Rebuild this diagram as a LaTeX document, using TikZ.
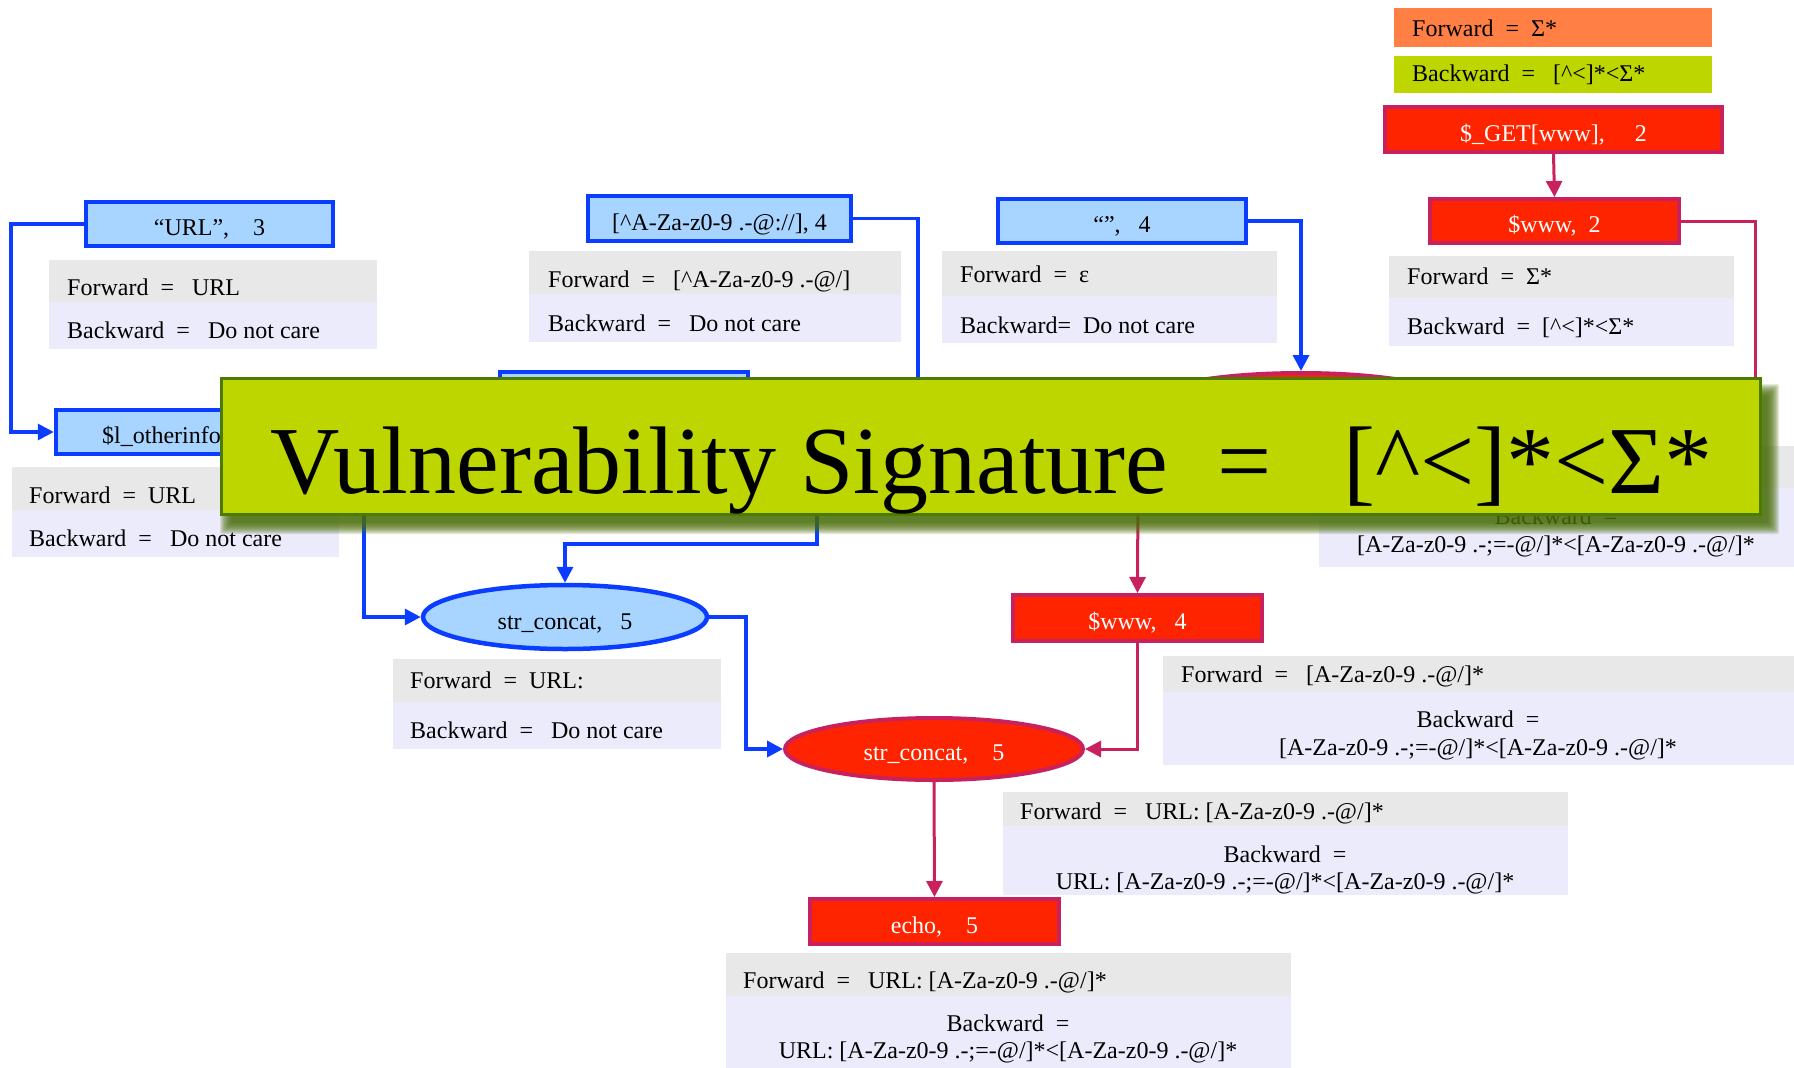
\documentclass[tikz,border=0pt]{standalone}
\usepackage{fontspec}
\setmainfont{Liberation Serif}
\usetikzlibrary{arrows.meta,shapes.geometric}
\definecolor{lblue}{HTML}{A8D5FF}
\definecolor{bblue}{HTML}{0A3DFF}
\definecolor{redf}{HTML}{FF2400}
\definecolor{crim}{HTML}{C9215D}
\definecolor{grayc}{HTML}{E8E8E8}
\definecolor{lav}{HTML}{EBEBFC}
\definecolor{orangec}{HTML}{FF7F44}
\definecolor{limec}{HTML}{BDD600}
\definecolor{bandark}{HTML}{4B7A00}
\definecolor{shadc}{HTML}{4A6E08}
\tikzset{
  tfont/.style={font=\fontsize{24}{28}\selectfont},
  bluebox/.style={rectangle, draw=bblue, fill=lblue, line width=4.5pt, inner sep=0pt, text height=23pt, text depth=0pt, tfont},
  redbox/.style={rectangle, draw=crim, fill=redf, line width=4pt, inner sep=0pt, text=white, text height=23pt, text depth=0pt, tfont},
  blueell/.style={ellipse, draw=bblue, fill=lblue, line width=4.5pt, inner sep=0pt, text height=24pt, text depth=0pt, tfont},
  redell/.style={ellipse, draw=crim, fill=redf, line width=4pt, inner sep=0pt, text=white, text height=22pt, text depth=0pt, tfont},
  itxt/.style={inner sep=0pt, anchor=base west, tfont},
  ctxt/.style={inner sep=0pt, anchor=base, tfont},
  bconn/.style={draw=bblue, line width=3.5pt},
  rconn/.style={draw=crim, line width=3pt},
  tipa/.style={-{Triangle[length=16pt,width=16pt]}},
  bigtxt/.style={inner sep=0pt, font=\fontsize{96}{110}\selectfont},
}
\newcommand\infopanel[5]{\fill[grayc] (#1,#2) rectangle (#4,#3); \fill[lav] (#1,#3) rectangle (#4,#5);}
\begin{document}
\begin{tikzpicture}[x=1pt,y=-1pt]
\useasboundingbox (0,0) rectangle (1794,1068);
\fill[white] (0,0) rectangle (1794,1068);

% legend top right
\fill[orangec] (1394,8) rectangle (1712,47);
\fill[limec] (1394,56) rectangle (1712,93);
\node[itxt] (lgf) at (1412,36) {Forward~~=~~Σ*};
\node[itxt] (lgb) at (1412,81) {Backward~~=~~~[\textasciicircum<]*<Σ*};

% info panels
\infopanel{49}{260}{302}{377}{349}
\node[itxt] (urlF) at (67,295) {Forward~~=~~~URL};
\node[itxt] (urlB) at (67,338) {Backward~~=~~~Do not care};

\infopanel{529}{251}{294}{901}{342}
\node[itxt] (rgxF) at (548,287) {Forward~~=~~~[\textasciicircum A-Za-z0-9 .-@/]};
\node[itxt] (rgxB) at (548,331) {Backward~~=~~~Do not care};

\infopanel{942}{251}{296}{1277}{343}
\node[itxt] (empF) at (960,282) {Forward~~=~~ε};
\node[itxt] (empB) at (960,333) {Backward=~~Do not care};

\infopanel{1389}{256}{298}{1734}{346}
\node[itxt] (w2F) at (1407,284) {Forward~~=~~Σ*};
\node[itxt] (w2B) at (1407,334) {Backward~~=~~[\textasciicircum<]*<Σ*};

\infopanel{12}{467}{510}{339}{557}
\node[itxt] (oiF) at (29,503) {Forward~~=~~URL};
\node[itxt] (oiB) at (29,546) {Backward~~=~~~Do not care};

\infopanel{393}{659}{702}{721}{749}
\node[itxt] (bcF) at (410,688) {Forward~~=~~URL:};
\node[itxt] (bcB) at (410,738) {Backward~~=~~~Do not care};

\infopanel{1319}{446}{488}{1794}{567}
\node[ctxt] (hiB) at (1556,524) {Backward~~=};
\node[ctxt] (hiB2) at (1556,552) {[A-Za-z0-9 .-;=-@/]*<[A-Za-z0-9 .-@/]*};

\infopanel{1163}{656}{692}{1794}{765}
\node[itxt] (w4F) at (1181,682) {Forward~~=~~~[A-Za-z0-9 .-@/]*};
\node[ctxt] (w4B) at (1478,727) {Backward~~=};
\node[ctxt] (w4B2) at (1478,755) {[A-Za-z0-9 .-;=-@/]*<[A-Za-z0-9 .-@/]*};

\infopanel{1003}{792}{826}{1568}{895}
\node[itxt] (rcF) at (1020,819) {Forward~~=~~~URL: [A-Za-z0-9 .-@/]*};
\node[ctxt] (rcB) at (1285,862) {Backward~~=};
\node[ctxt] (rcB2) at (1285,889) {URL: [A-Za-z0-9 .-;=-@/]*<[A-Za-z0-9 .-@/]*};

\infopanel{726}{953}{996}{1291}{1068}
\node[itxt] (ecF) at (743,988) {Forward~~=~~~URL: [A-Za-z0-9 .-@/]*};
\node[ctxt] (ecB) at (1008,1031) {Backward~~=};
\node[ctxt] (ecB2) at (1008,1058) {URL: [A-Za-z0-9 .-;=-@/]*<[A-Za-z0-9 .-@/]*};

% nodes
\node[bluebox, minimum width=247pt, minimum height=44pt] (url) at (209.5,224) {“URL”,\quad 3};
\node[bluebox, minimum width=263pt, minimum height=45pt] (regex) at (719.5,218.5) {[\textasciicircum A-Za-z0-9 .-@://], 4};
\node[bluebox, minimum width=248pt, minimum height=44pt] (empty) at (1122,221) {“”,~~~4};
\node[bluebox, minimum width=248pt, minimum height=44pt] (oinfo) at (180,432) {};
\node[itxt] (oinfot) at (102,443) {\$l\_otherinfo};
\node[bluebox, minimum width=248pt, minimum height=44pt] (hbox) at (624,394) {};
\node[redell, minimum width=318pt, minimum height=62pt] (hell) at (1301,404) {};
\node[redbox, minimum width=337pt, minimum height=45pt] (get) at (1553.5,129.5) {\$\_GET[www],\quad~2};
\node[redbox, minimum width=249pt, minimum height=44pt] (www2) at (1554.5,221) {\$www,~~2};
\node[redbox, minimum width=249pt, minimum height=46pt] (www4) at (1137.5,618) {\$www,~~~4};
\node[redbox, minimum width=249pt, minimum height=45pt] (echo) at (934.5,921.5) {echo,\quad 5};
\node[blueell, minimum width=284pt, minimum height=64pt] (bcat) at (565,617) {str\_concat,~~~5};
\node[redell, minimum width=298pt, minimum height=62pt] (rcat) at (934,749) {str\_concat,\quad 5};

% hidden ends under the banner
\coordinate (h2) at (918,430);
\coordinate (h5) at (1755,440);
\coordinate (h6) at (364,470);
\coordinate (h7) at (817,480);
\coordinate (h9) at (1138,480);

% connectors
\draw[bconn, tipa] (url.west) -- (11,224) |- (oinfo.west);
\draw[bconn] (regex.east) -| (h2);
\draw[bconn, tipa] (empty.east) -| (hell.north);
\draw[rconn, tipa] (get.south) -- (www2.north);
\draw[rconn] (www2.east) -| (h5);
\draw[bconn, tipa] (h6) |- (bcat.west);
\draw[bconn, tipa] (h7) -- (817,544) -| (bcat.north);
\draw[bconn, tipa] (bcat.east) -- (746,617) |- (rcat.west);
\draw[rconn, tipa] (h9) -- (www4.north);
\draw[rconn, tipa] (www4.south) |- (rcat.east);
\draw[rconn, tipa] (rcat.south) -- (echo.north);

% banner shadow
\foreach \i in {0,...,12}{\fill[shadc, opacity=0.14, rounded corners=2pt] (232-\i,396-\i) rectangle (1767+\i,522+\i);}
% banner
\node[rectangle, draw=bandark, fill=limec, line width=3pt, minimum width=1539pt, minimum height=136pt, inner sep=0pt] (banner) at (991,446.5) {};
\node[bigtxt, anchor=base west] (sig) at (270,493) {Vulnerability Signature};
\node[bigtxt, anchor=base] (sigeq) at (1245,493) {=};
\node[bigtxt, anchor=base east] (sigre) at (1713,493) {[\textasciicircum<]*<Σ*};
\end{tikzpicture}
\end{document}
